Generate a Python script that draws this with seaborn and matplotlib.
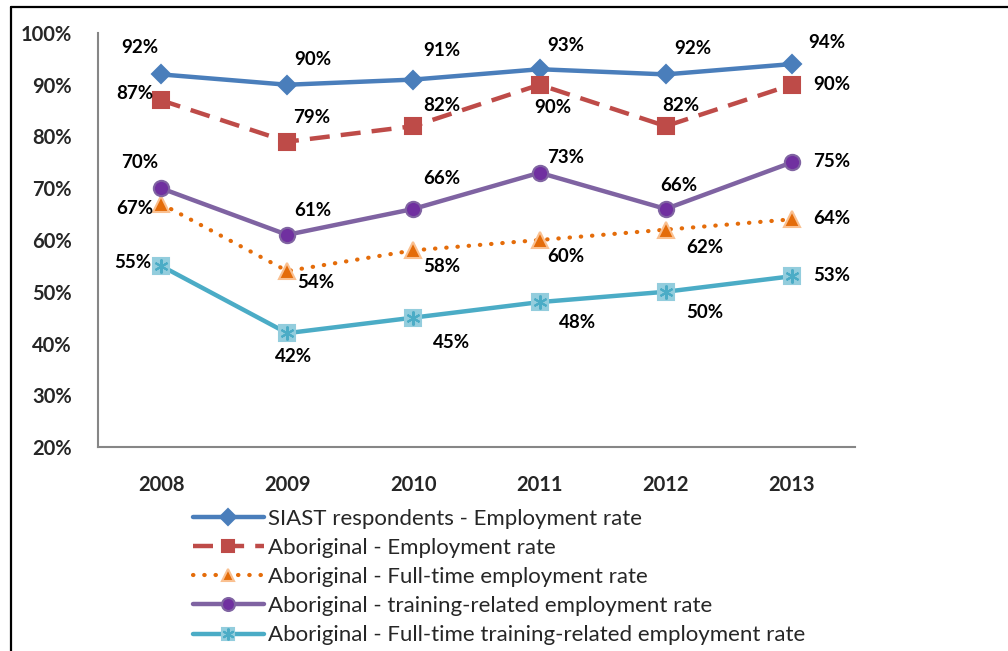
import numpy as np
import matplotlib
matplotlib.use("Agg")
import matplotlib.pyplot as plt
import seaborn as sns
from matplotlib.lines import Line2D

# -----------------------------
# Data
# -----------------------------
years = ["2008", "2009", "2010", "2011", "2012", "2013"]

siast_employment = [92, 90, 91, 93, 92, 94]
abor_employment = [87, 79, 82, 90, 82, 90]
abor_fulltime = [67, 54, 58, 60, 62, 64]
abor_training = [70, 61, 66, 73, 66, 75]
abor_fulltime_training = [55, 42, 45, 48, 50, 53]

series_names = [
    "SIAST respondents - Employment rate",
    "Aboriginal - Employment rate",
    "Aboriginal - Full-time employment rate",
    "Aboriginal - training-related employment rate",
    "Aboriginal - Full-time training-related employment rate",
]

# -----------------------------
# Style
# -----------------------------
sns.set_style("white")
plt.rcParams["font.family"] = ["Lato", "DejaVu Sans"]

fig = plt.figure(figsize=(10.08, 6.51), dpi=100)
ax = fig.add_axes([98 / 1008, 1 - 447 / 651, (855 - 98) / 1008, (447 - 33) / 651])

x = np.arange(len(years))

styles = [
    dict(color="#4A7EBB", marker="D", ms=9, mfc="#4A7EBB", mec="#4A7EBB", ls="-", lw=3.2),
    dict(color="#BE4B48", marker="s", ms=11, mfc="#BE4B48", mec="#BE4B48", ls=(0, (4.5, 2.5)), lw=3.2),
    dict(color="#E46C0A", marker="^", ms=11, mfc="#E46C0A", mec="#FAC090", ls=(0, (0.1, 2.6)), lw=3.0,
         dash_capstyle="round"),
    dict(color="#7F63A2", marker="o", ms=11, mfc="#7030A0", mec="#8064A2", ls="-", lw=3.2),
    dict(color="#4BACC6", marker="s", ms=11, mfc="#93CDDD", mec="#93CDDD", ls="-", lw=3.2),
]

all_series = [siast_employment, abor_employment, abor_fulltime, abor_training, abor_fulltime_training]

for vals, name, st in zip(all_series, series_names, styles):
    sns.lineplot(x=x, y=vals, ax=ax, label=name, markeredgewidth=1.5, **st)

# asterisk on top of the teal squares
star, = ax.plot(x, abor_fulltime_training, ls="none", marker=(6, 2, 0), ms=10,
                mec="#4BACC6", mew=1.5, zorder=5)

# -----------------------------
# Data labels (pixel offsets from point)
# -----------------------------
label_offsets = [
    [(-21, 27), (26, 25), (28, 29), (26, 24), (27, 26), (35, 22)],
    [(-26, 7), (24, 24), (28, 21), (13, -23), (15, 21), (40, 0)],
    [(-26, -5), (28, -11), (28, -16), (26, -17), (39, -18), (40, 1)],
    [(-21, 26), (26, 24), (28, 30), (26, 15), (13, 23), (40, 1)],
    [(-28, 3), (6, -23), (38, -25), (38, -20), (39, -21), (40, 1)],
]

for vals, offs in zip(all_series, label_offsets):
    for xi, v, (dx, dy) in zip(x, vals, offs):
        ax.annotate(f"{v}%", (xi, v), xytext=(dx, dy), textcoords="offset pixels",
                    ha="center", va="center", fontsize=13.5, fontweight="bold", color="black")

# -----------------------------
# Axes
# -----------------------------
ax.set_xlim(-0.5, len(years) - 0.5)
ax.set_ylim(20, 100)
yt = np.arange(20, 101, 10)
ax.set_yticks(yt)
ax.set_yticklabels([f"{t}%" for t in yt], fontsize=14.5, fontweight="bold")
ax.set_xticks(np.arange(-0.5, len(years)), labels=[""] * (len(years) + 1))
ax.set_xticks(x, minor=True)
ax.set_xticklabels(years, minor=True, fontsize=14.5, fontweight="bold")
ax.tick_params(axis="x", which="major", length=7, width=1.5, color="#868686", direction="out")
ax.tick_params(axis="x", which="minor", length=0, pad=20)
ax.tick_params(axis="y", length=7, width=1.5, color="#868686", direction="out", pad=12)

for side in ["top", "right"]:
    ax.spines[side].set_visible(False)
for side in ["left", "bottom"]:
    ax.spines[side].set_color("#868686")
    ax.spines[side].set_linewidth(1.5)

handles, labels = ax.get_legend_handles_labels()
handles[4] = (handles[4], star)
leg = ax.legend(handles, labels, loc="upper center", bbox_to_anchor=(0.53, -0.128), frameon=False,
                fontsize=16, handlelength=3.2, handletextpad=0.2, labelspacing=0.41,
                markerscale=0.85, borderaxespad=0)

# outer frame
fig.add_artist(Line2D([11 / 1008, 11 / 1008], [0, 1 - 7 / 651], color="black", lw=1.6))
fig.add_artist(Line2D([11 / 1008, 1], [1 - 7 / 651, 1 - 7 / 651], color="black", lw=1.6))

fig.savefig("out.png", dpi=100)
